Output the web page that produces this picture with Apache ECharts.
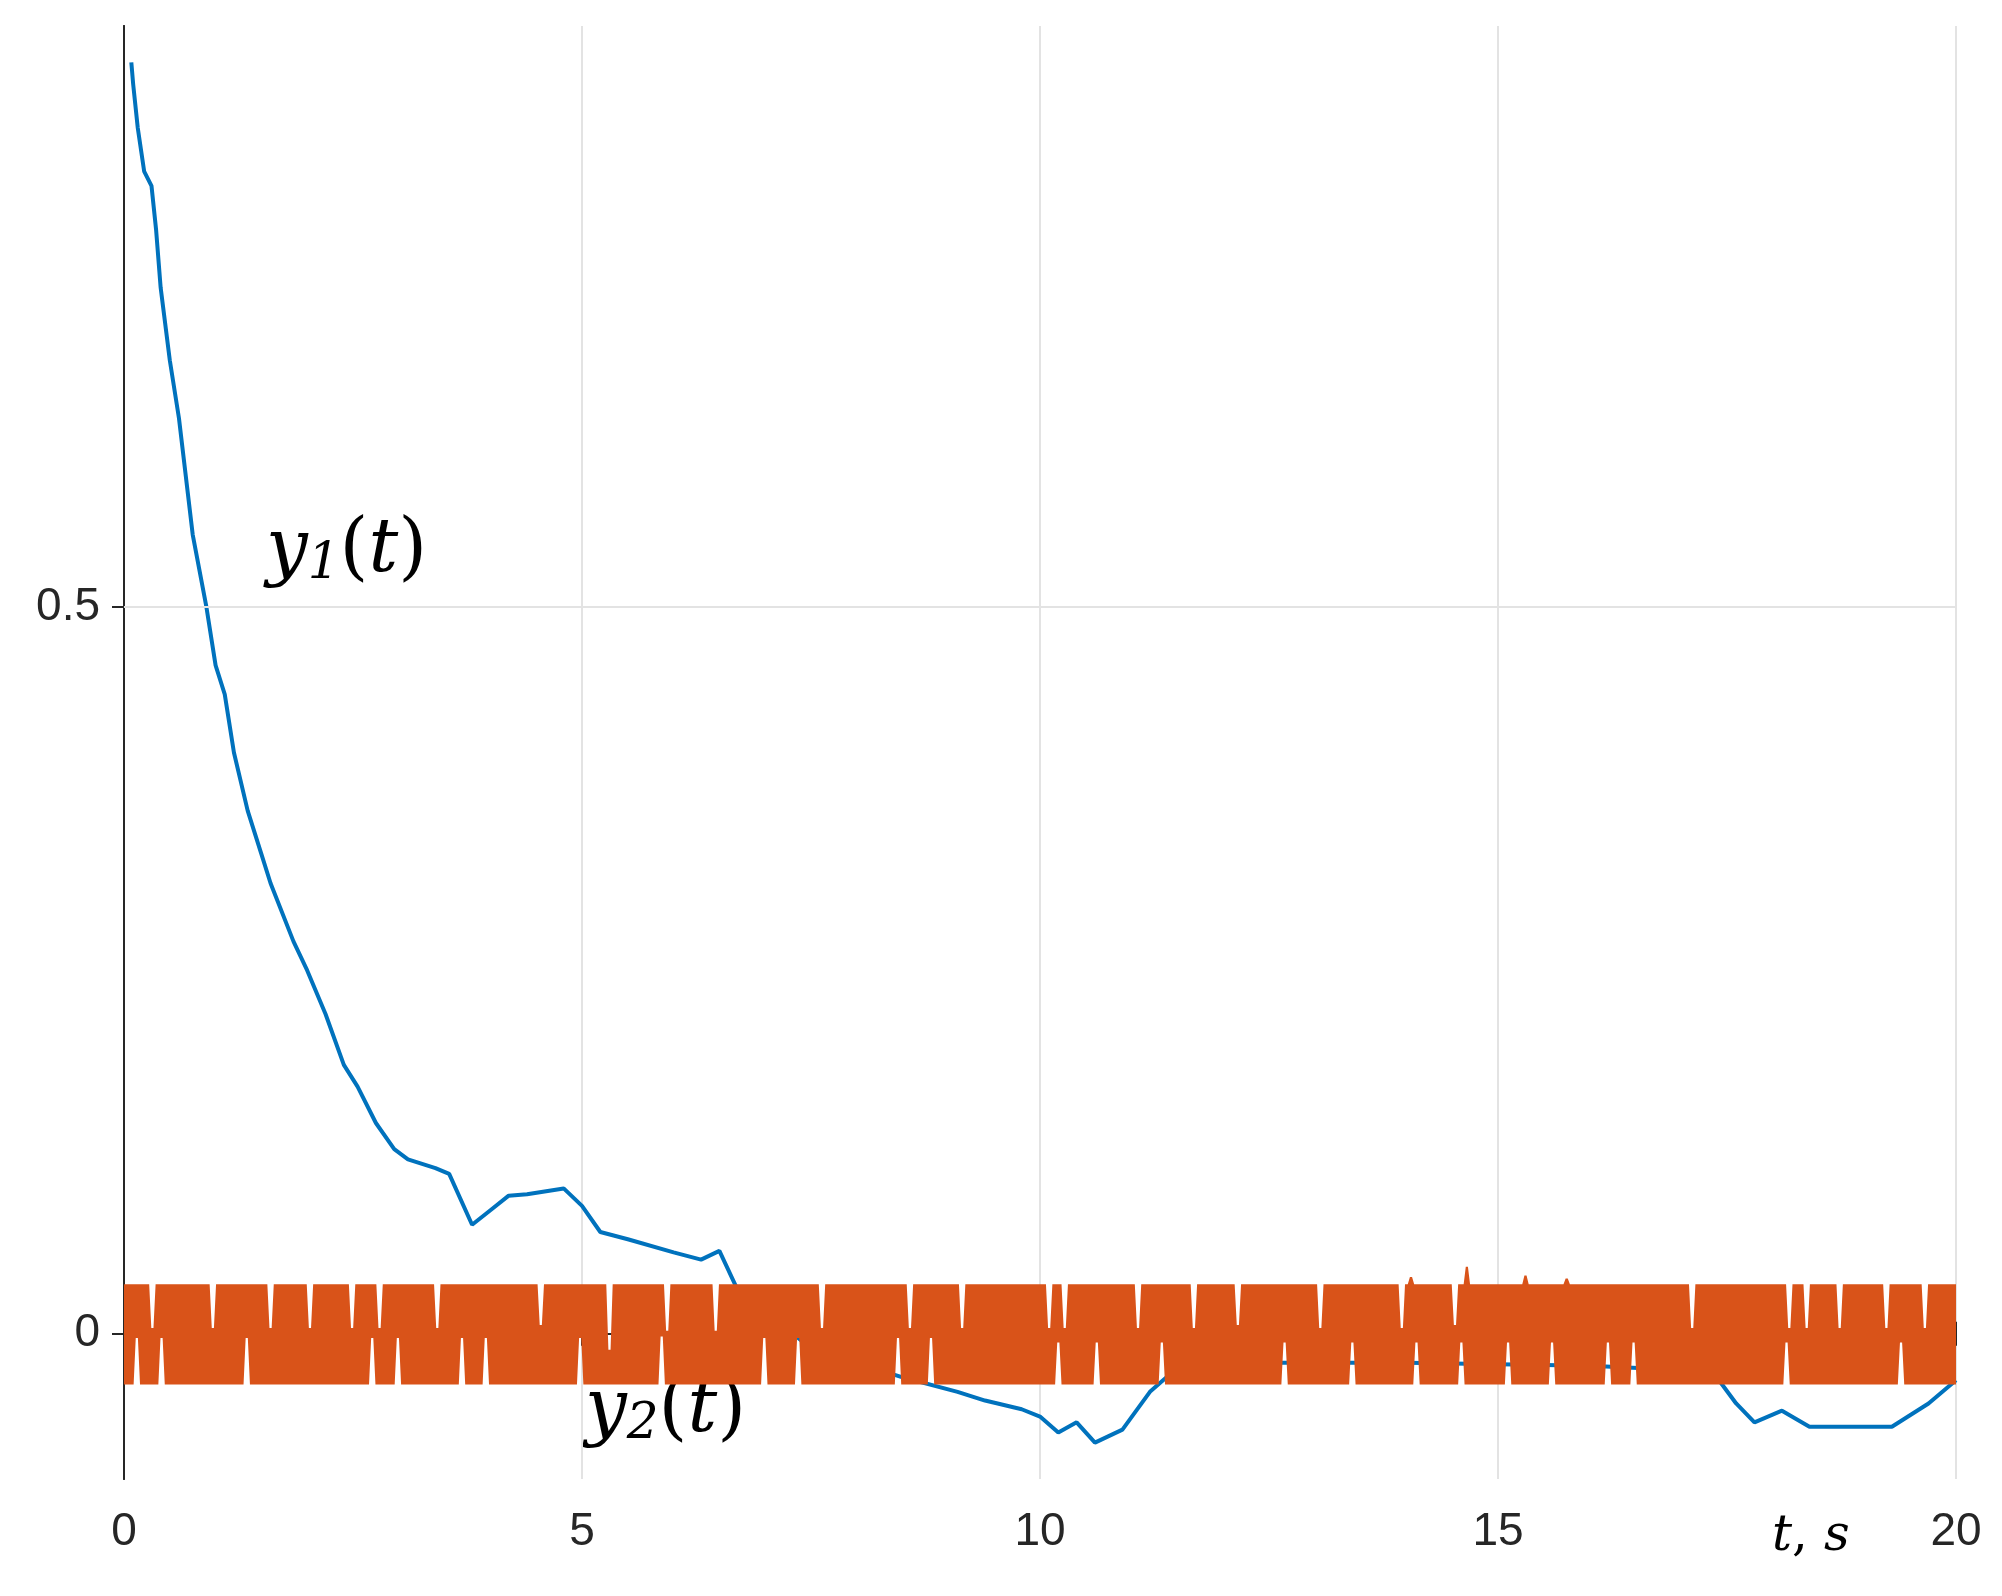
<!DOCTYPE html>
<html>
<head>
<meta charset="utf-8">
<title>y1, y2</title>
<script src="https://cdn.jsdelivr.net/npm/echarts@6/dist/echarts.min.js"></script>
</head>
<body style="margin:0;background:#fff">
<div id="chart" style="width:2002px;height:1596px"></div>
<script>
// y1(t) (parts hidden behind y2 estimated)
const y1T = [0.08,0.1,0.15,0.22,0.3,0.35,0.4,0.5,0.6,0.75,0.9,1.0,1.1,1.2,1.35,1.5,1.6,1.85,2.0,2.2,2.4,2.55,2.75,2.95,3.1,3.4,3.55,3.8,4.0,4.2,4.4,4.8,5.0,5.2,5.5,6.0,6.3,6.5,6.7,7.5,8.5,9.1,9.4,9.8,10.0,10.2,10.4,10.6,10.9,11.2,11.6,12.5,14.0,16.0,17.0,17.4,17.6,17.8,18.1,18.4,19.0,19.3,19.7,20.0];
const y1V = [0.875,0.86,0.83,0.80,0.79,0.76,0.72,0.67,0.63,0.55,0.50,0.46,0.44,0.40,0.36,0.33,0.31,0.27,0.25,0.22,0.185,0.17,0.145,0.127,0.12,0.114,0.11,0.075,0.085,0.095,0.096,0.10,0.088,0.07,0.065,0.056,0.051,0.057,0.03,-0.01,-0.03,-0.04,-0.046,-0.052,-0.057,-0.068,-0.061,-0.075,-0.066,-0.04,-0.018,-0.02,-0.02,-0.022,-0.025,-0.031,-0.048,-0.061,-0.053,-0.064,-0.064,-0.064,-0.048,-0.032];

// y2(t): chattering band, edges and the notches where it narrows
const y2Top = 0.034;
const y2Bottom = -0.035;
const topNotchT = [0.31,0.97,1.6,2.03,2.49,2.79,3.42,4.55,5.3,5.93,6.46,7.62,8.58,9.15,10.1,10.27,11.07,11.68,12.16,13.06,13.95,14.53,17.12,18.18,18.37,18.73,19.24,19.66];
const topNotchV = [0.004,0.004,0.004,0.004,0.004,0.004,0.004,0.006,-0.011,0.002,0.002,0.004,0.004,0.004,0.004,0.004,0.004,0.004,0.006,0.004,0.004,0.006,0.004,0.004,0.004,0.004,0.004,0.004];
const spikeT = [14.05,14.66,15.3,15.75];
const spikeV = [0.039,0.046,0.04,0.038];
const botNotchT = [0.14,0.41,1.34,2.71,2.99,3.69,3.95,4.98,5.87,6.99,7.36,8.45,8.81,10.2,10.62,11.33,12.67,13.41,14.11,14.6,15.11,15.59,16.2,16.48,18.15,19.4];
const botNotchV = [-0.003,-0.003,-0.003,-0.003,-0.003,-0.003,-0.003,-0.003,-0.002,-0.003,-0.003,-0.003,-0.003,-0.006,-0.006,-0.006,-0.006,-0.006,-0.006,-0.006,-0.006,-0.006,-0.006,-0.006,-0.006,-0.006];

function edge(base, ts, vs, w) {
  const pts = [[0, base]];
  ts.forEach((t, i) => {
    pts.push([t - w, base], [t - w / 3, vs[i]], [t + w / 3, vs[i]], [t + w, base]);
  });
  pts.push([20, base]);
  return pts.sort((a, b) => a[0] - b[0]);
}
const upper = edge(y2Top, topNotchT.concat(spikeT), topNotchV.concat(spikeV), 0.035);
const lower = edge(y2Bottom, botNotchT, botNotchV, 0.035);

const chart = echarts.init(document.getElementById('chart'));
const frame = { show: true, lineStyle: { color: '#262626', width: 2 } };
const tick = { inside: true, length: 12, lineStyle: { color: '#262626', width: 2 } };
const sub = { fontFamily: 'DejaVu Serif', fontStyle: 'italic', fontSize: 50, color: '#000', padding: [26, 0, 0, 0] };
const main = { fontFamily: 'DejaVu Serif', fontStyle: 'italic', fontSize: 74, color: '#000' };
const par = { fontFamily: 'DejaVu Serif', fontSize: 74, color: '#000' };

chart.setOption({
  animation: false,
  grid: { left: 124, right: 46, top: 26, bottom: 117 },
  xAxis: [{
    type: 'value', min: 0, max: 20, interval: 5,
    axisLine: frame, axisTick: tick,
    axisLabel: { fontSize: 46, color: '#262626', margin: 30, fontFamily: 'Liberation Sans' },
    splitLine: { lineStyle: { color: '#e3e3e3', width: 2 } }
  }, {
    type: 'value', min: 0, max: 20, interval: 5, position: 'top',
    axisLine: frame, axisTick: tick,
    axisLabel: { show: false }, splitLine: { show: false }
  }],
  yAxis: [{
    type: 'value', min: -0.1, max: 0.9,
    axisLine: frame,
    axisTick: Object.assign({ customValues: [0, 0.5] }, tick),
    axisLabel: { fontSize: 46, color: '#262626', margin: 24, customValues: [0, 0.5], fontFamily: 'Liberation Sans' },
    splitLine: { show: false }
  }, {
    type: 'value', min: -0.1, max: 0.9, position: 'right',
    axisLine: frame,
    axisTick: Object.assign({ customValues: [0, 0.5] }, tick),
    axisLabel: { show: false }, splitLine: { show: false }
  }],
  series: [{
    type: 'line', symbol: 'none', z: 1,
    data: [],
    markLine: {
      silent: true, symbol: 'none', label: { show: false },
      lineStyle: { color: '#e3e3e3', width: 2, type: 'solid' },
      data: [{ yAxis: 0.5 }]
    }
  }, {
    type: 'line', symbol: 'none', xAxisIndex: 1, yAxisIndex: 1, data: []
  }, {
    name: 'y1', type: 'line', symbol: 'none', z: 2,
    lineStyle: { color: '#0072BD', width: 4 },
    data: y1T.map((t, i) => [t, y1V[i]])
  }, {
    name: 'y2', type: 'custom', z: 3,
    data: [[0, 0]],
    renderItem: function (params, api) {
      const pts = upper.map(p => api.coord(p)).concat(lower.slice().reverse().map(p => api.coord(p)));
      return { type: 'polygon', shape: { points: pts }, style: { fill: '#D95319' } };
    }
  }],
  graphic: [{
    type: 'text', left: 266, top: 515,
    style: { rich: { m: main, s: sub, p: par }, text: '{m|y}{s|1}{p|(}{m|t}{p|)}' }
  }, {
    type: 'text', left: 585, top: 1375,
    style: { rich: { m: main, s: sub, p: par }, text: '{m|y}{s|2}{p|(}{m|t}{p|)}' }
  }, {
    type: 'text', left: 1772, top: 1512,
    style: { rich: { m: { fontFamily: 'DejaVu Serif', fontStyle: 'italic', fontSize: 50, color: '#000' }, p: { fontFamily: 'DejaVu Serif', fontSize: 50, color: '#000' } }, text: '{m|t}{p|, }{m|s}' }
  }]
});
</script>
</body>
</html>
